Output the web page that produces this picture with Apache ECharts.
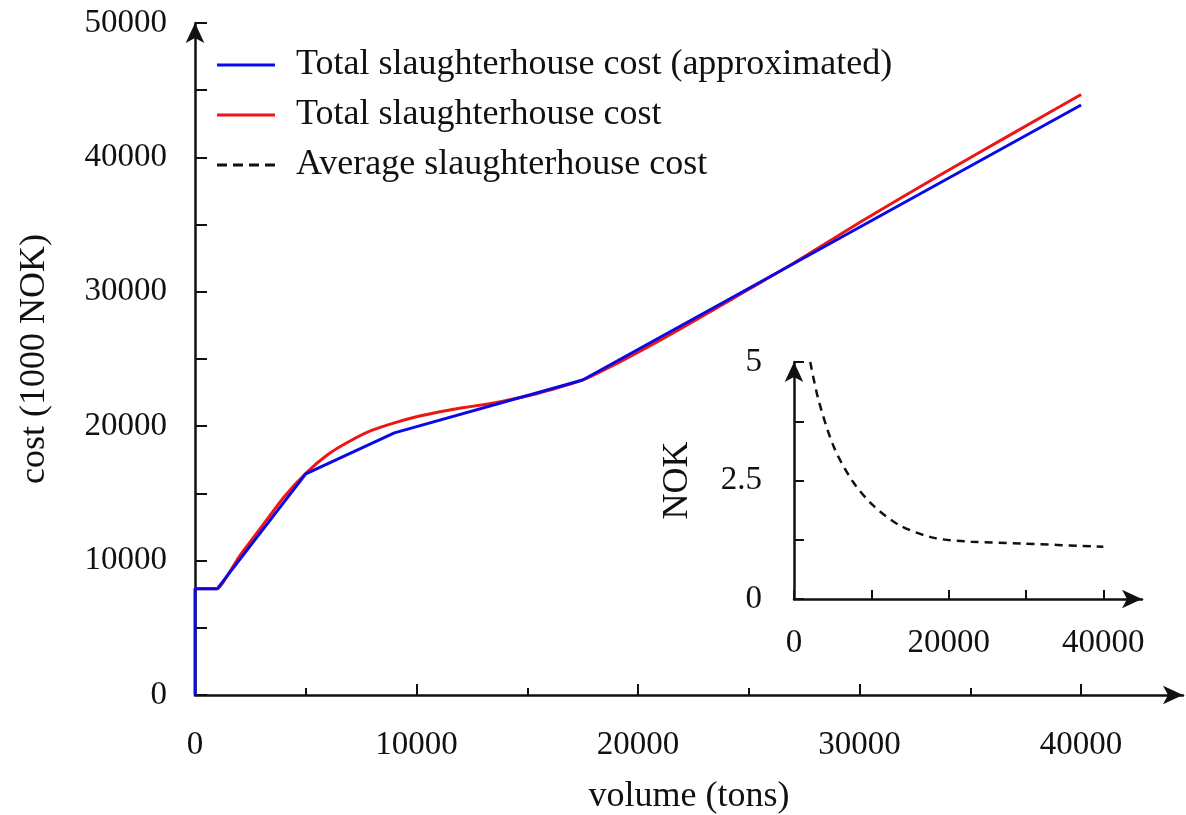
<!DOCTYPE html>
<html>
<head>
<meta charset="utf-8">
<title>Slaughterhouse cost</title>
<script src="https://cdn.jsdelivr.net/npm/echarts@6/dist/echarts.min.js"></script>
<style>
  html, body { margin: 0; padding: 0; background: #fff; }
  #chart { width: 1186px; height: 815px; }
</style>
</head>
<body>
<div id="chart"></div>
<script>
// total cost, piecewise linear approximation (volume in tons, cost in 1000 NOK)
const approxX = [0, 0, 1000, 5000, 9000, 17500, 40000];
const approxY = [0, 7900, 7900, 16450, 19500, 23440, 43900];

// total cost, actual
const totalX = [0, 1000, 1500, 2000, 3000, 4000, 5000, 6000, 7000, 8000, 9000, 10000, 11000, 12000, 13000, 14000, 15500, 17500, 19000, 21000, 23000, 25000, 27000, 30000, 33500, 37000, 40000];
const totalY = [7900, 7900, 9000, 10300, 12500, 14700, 16500, 17900, 18900, 19700, 20250, 20700, 21050, 21350, 21600, 21900, 22450, 23440, 24630, 26400, 28270, 30190, 32100, 35160, 38560, 41860, 44680];

// average cost per kg (NOK), inset
const avgX = [2100, 3200, 5200, 7600, 10200, 13700, 18100, 22900, 29500, 40000];
const avgY = [5.0, 4.18, 3.19, 2.48, 1.98, 1.55, 1.29, 1.21, 1.17, 1.10];

// tick labels
const mainXLabels = [0, 10000, 20000, 30000, 40000];
const mainXMinor = [5000, 15000, 25000, 35000];
const mainYTicks = [0, 5000, 10000, 15000, 20000, 25000, 30000, 35000, 40000, 45000, 50000];
const mainYLabels = [0, 10000, 20000, 30000, 40000, 50000];
const insetXTicks = [0, 10000, 20000, 30000, 40000];
const insetXLabels = [0, 20000, 40000];
const insetYLabels = [0, 2.5, 5];

const FONT = 'Liberation Serif';
const INK = '#111';

const zip = (xs, ys) => xs.map((x, i) => [x, ys[i]]);
const plain = v => String(v);

const axisLine = {
  show: true,
  symbol: ['none', 'arrow'],
  symbolSize: [14, 20],
  symbolOffset: [0, 0],
  lineStyle: { color: INK, width: 2.5 }
};
const labelStyle = { fontFamily: FONT, fontSize: 33, color: INK };
const nameStyle = { fontFamily: FONT, fontSize: 36, color: INK };

// legend samples: a solid bar and a dashed bar
const solidIcon = 'path://M0,0H58V3H0Z';
const dashIcon = 'path://M0,0H10V3H0Z M16,0H26V3H16Z M32,0H42V3H32Z M48,0H58V3H48Z';

const chart = echarts.init(document.getElementById('chart'));

const option = {
  backgroundColor: '#fff',
  animation: false,
  legend: {
    orient: 'vertical',
    left: 212,
    top: 42,
    itemWidth: 58,
    itemHeight: 14,
    itemGap: 14,
    data: [
      { name: 'Total slaughterhouse cost (approximated)', icon: solidIcon },
      { name: 'Total slaughterhouse cost', icon: solidIcon },
      { name: 'Average slaughterhouse cost', icon: dashIcon }
    ],
    textStyle: { fontFamily: FONT, fontSize: 36, color: INK, padding: [0, 0, 0, 16] }
  },
  grid: [
    { left: 195, right: 3, top: 23, bottom: 120, outerBoundsMode: 'none' },
    { left: 794, right: 44, top: 362, bottom: 216, outerBoundsMode: 'none' }
  ],
  xAxis: [
    {
      gridIndex: 0, type: 'value', min: 0, max: 44600,
      name: 'volume (tons)', nameLocation: 'middle', nameGap: 84,
      nameTextStyle: nameStyle,
      axisLine: axisLine,
      axisTick: { inside: true, length: 11, customValues: mainXLabels, lineStyle: { color: INK, width: 2 } },
      axisLabel: Object.assign({ margin: 34, customValues: mainXLabels, formatter: plain }, labelStyle),
      splitLine: { show: false }
    },
    {
      // minor ticks at the 5000 marks
      gridIndex: 0, type: 'value', min: 0, max: 44600, position: 'bottom',
      axisLine: { show: false },
      axisTick: { inside: true, length: 7, customValues: mainXMinor, lineStyle: { color: INK, width: 2 } },
      axisLabel: { show: false },
      splitLine: { show: false }
    },
    {
      gridIndex: 1, type: 'value', min: 0, max: 45000,
      axisLine: axisLine,
      axisTick: { inside: true, length: 9, customValues: insetXTicks, lineStyle: { color: INK, width: 2 } },
      axisLabel: Object.assign({ margin: 28, customValues: insetXLabels, formatter: plain }, labelStyle),
      splitLine: { show: false }
    }
  ],
  yAxis: [
    {
      gridIndex: 0, type: 'value', min: 0, max: 50000,
      name: 'cost (1000 NOK)', nameLocation: 'middle', nameGap: 142,
      nameTextStyle: nameStyle,
      axisLine: axisLine,
      axisTick: { inside: true, length: 12, customValues: mainYTicks, lineStyle: { color: INK, width: 2 } },
      axisLabel: Object.assign({ margin: 28, customValues: mainYLabels, formatter: plain }, labelStyle),
      splitLine: { show: false }
    },
    {
      gridIndex: 1, type: 'value', min: 0, max: 5, interval: 1.25,
      name: 'NOK', nameLocation: 'middle', nameGap: 98,
      nameTextStyle: nameStyle,
      axisLine: axisLine,
      axisTick: { inside: true, length: 10, lineStyle: { color: INK, width: 2 } },
      axisLabel: Object.assign({ margin: 32, customValues: insetYLabels, formatter: plain }, labelStyle),
      splitLine: { show: false }
    }
  ],
  series: [
    {
      name: 'Total slaughterhouse cost',
      type: 'line', xAxisIndex: 0, yAxisIndex: 0,
      data: zip(totalX, totalY),
      smooth: 0.2, symbol: 'none', z: 2,
      lineStyle: { color: '#ee1515', width: 3 },
      itemStyle: { color: '#ee1515' }
    },
    {
      name: 'Total slaughterhouse cost (approximated)',
      type: 'line', xAxisIndex: 0, yAxisIndex: 0,
      data: zip(approxX, approxY),
      symbol: 'none', z: 3,
      lineStyle: { color: '#0a0ae6', width: 3 },
      itemStyle: { color: '#0a0ae6' }
    },
    {
      name: 'Average slaughterhouse cost',
      type: 'line', xAxisIndex: 2, yAxisIndex: 1,
      data: zip(avgX, avgY),
      smooth: 0.3, symbol: 'none', z: 3,
      lineStyle: { color: INK, width: 2.5, type: [8, 6] },
      itemStyle: { color: INK }
    }
  ]
};

chart.setOption(option);
</script>
</body>
</html>
